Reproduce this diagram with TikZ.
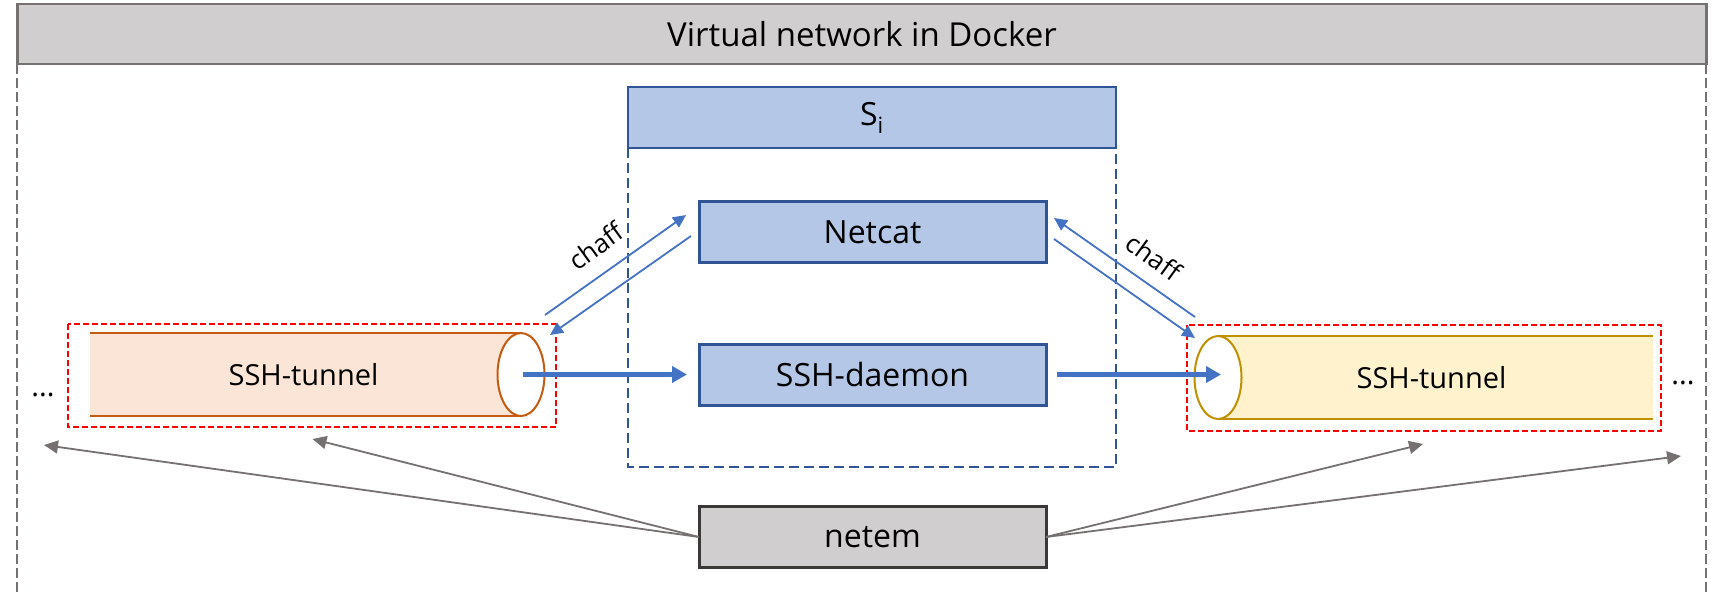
\documentclass[tikz,border=0pt]{standalone}
\usepackage{fontspec}
\setmainfont{Open Sans}
\usetikzlibrary{arrows.meta,shapes.geometric}
\definecolor{headgray}{HTML}{D0CECE}
\definecolor{edgegray}{HTML}{767171}
\definecolor{darkgray}{HTML}{3B3838}
\definecolor{boxblue}{HTML}{B4C7E7}
\definecolor{edgeblue}{HTML}{2F5597}
\definecolor{linkblue}{HTML}{4472C4}
\definecolor{tubeorange}{HTML}{FBE5D6}
\definecolor{lineorange}{HTML}{C55A11}
\definecolor{tubeyellow}{HTML}{FFF2CC}
\definecolor{lineyellow}{HTML}{BF9000}
\begin{document}
\begin{tikzpicture}[
   x=1pt, y=-1pt,
   every node/.style={inner sep=0pt, outer sep=0pt, text=black},
   bluebox/.style={draw=edgeblue, fill=boxblue, line width=3pt, minimum width=347pt, minimum height=61pt, font=\fontsize{32}{40}\selectfont},
   tube/.style={minimum height=83pt, font=\fontsize{29}{35}\selectfont},
   mouth/.style={shape=ellipse, draw, fill=white, line width=2pt, minimum width=47pt, minimum height=83pt},
   redbox/.style={draw=red, line width=2.4pt, dash pattern=on 6pt off 3pt},
   chaffline/.style={draw=linkblue, line width=1.8pt, -{Triangle[length=13pt,width=12pt]}},
   datalink/.style={draw=linkblue, line width=4.5pt, -{Triangle[length=15pt,width=16pt]}},
   netemlink/.style={draw=edgegray, line width=1.8pt, -{Triangle[length=14pt,width=13pt]}},
   dots/.style={font=\fontsize{29}{35}\selectfont, anchor=base},
   chaffnote/.style={font=\fontsize{26}{32}\selectfont}]

\useasboundingbox (0,0) rectangle (1715,592);

% outer frame and header
\draw[edgegray, line width=1.2pt, dash pattern=on 10pt off 4pt] (17,64) -- (17,592) (1706,64) -- (1706,592);
\node[draw=edgegray, fill=headgray, line width=2.8pt, minimum width=1689pt, minimum height=60pt, font=\fontsize{33}{42}\selectfont] (docker) at (862,34) {Virtual network in Docker};

% host
\draw[edgeblue, line width=2pt, dash pattern=on 10pt off 5pt] (628,148) -- (628,467) -- (1116,467) -- (1116,148);
\node[bluebox, minimum width=488pt, line width=2.8pt] (host) at (872,117.5) {S\textsubscript{i}};
\node[bluebox] (netcat) at (872.5,232) {Netcat};
\node[bluebox] (daemon) at (872.5,374.5) {SSH-daemon};
\node[bluebox, draw=darkgray, fill=headgray] (netem) at (872.5,537) {netem};

% left tunnel
\draw[redbox] (68,324) rectangle (556,427);
\node[tube, fill=tubeorange, minimum width=431pt] (tunnelL) at (305.5,374.5) {\hspace*{-4pt}SSH-tunnel};
\draw[lineorange, line width=2pt] (tunnelL.north west) -- (tunnelL.north east) (tunnelL.south west) -- (tunnelL.south east);
\node[mouth, draw=lineorange] (mouthL) at (tunnelL.east) {};

% right tunnel
\draw[redbox] (1187,325) rectangle (1661,431);
\node[tube, fill=tubeyellow, minimum width=435pt] (tunnelR) at (1435.5,377.5) {\hspace*{-8pt}SSH-tunnel};
\draw[lineyellow, line width=2pt] (tunnelR.north west) -- (tunnelR.north east) (tunnelR.south west) -- (tunnelR.south east);
\node[mouth, draw=lineyellow] (mouthR) at (tunnelR.west) {};

\node[dots] (dotsL) at (43,396) {...};
\node[dots] (dotsR) at (1683,384) {...};

% data path
\draw[datalink, shorten <=2pt, shorten >=12pt] (mouthL.center) -- (mouthL.center -| daemon.west);
\draw[datalink, shorten <=11pt, shorten >=-3pt] (daemon.east) -- (daemon.east -| mouthR.center);

% chaff
\coordinate (upLa) at (545,315);
\coordinate (upLb) at (686,215);
\coordinate (downLa) at (691,236);
\coordinate (downLb) at (550,335);
\coordinate (upRa) at (1195,317);
\coordinate (upRb) at (1054,218);
\coordinate (downRa) at (1054,239);
\coordinate (downRb) at (1195,338);
\draw[chaffline] (upLa) -- (upLb);
\draw[chaffline] (downLa) -- (downLb);
\draw[chaffline] (upRa) -- (upRb);
\draw[chaffline] (downRa) -- (downRb);
\node[chaffnote, rotate=36] (chaffL) at (596,246) {chaff};
\node[chaffnote, rotate=-36] (chaffR) at (1154,257) {chaff};

% netem
\coordinate (tipA) at (44,445);
\coordinate (tipB) at (312.5,439);
\coordinate (tipC) at (1423,444);
\coordinate (tipD) at (1681,456);
\draw[netemlink] (netem.west) -- (tipA);
\draw[netemlink] (netem.west) -- (tipB);
\draw[netemlink] (netem.east) -- (tipC);
\draw[netemlink] (netem.east) -- (tipD);

\end{tikzpicture}
\end{document}
